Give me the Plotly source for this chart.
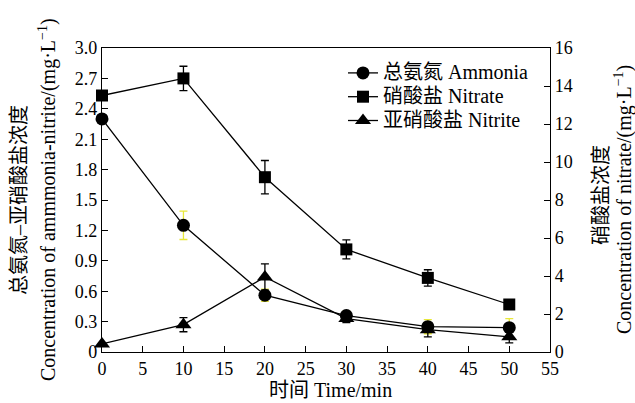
import plotly.graph_objects as go

time_min = [0, 10, 20, 30, 40, 50]

ammonia = [2.30, 1.25, 0.56, 0.36, 0.25, 0.24]
ammonia_err = [0.0, 0.14, 0.06, 0.04, 0.07, 0.09]

nitrate = [13.5, 14.4, 9.2, 5.4, 3.9, 2.5]
nitrate_err = [0.0, 0.64, 0.88, 0.5, 0.43, 0.1]

nitrite = [0.08, 0.27, 0.74, 0.33, 0.22, 0.15]
nitrite_err = [0.0, 0.07, 0.13, 0.04, 0.07, 0.06]

left_ticks = [0, 0.3, 0.6, 0.9, 1.2, 1.5, 1.8, 2.1, 2.4, 2.7, 3.0]
left_ticktext = ["0", "0.3", "0.6", "0.9", "1.2", "1.5", "1.8", "2.1", "2.4", "2.7", "3.0"]
right_ticks = [0, 2, 4, 6, 8, 10, 12, 14, 16]
x_ticks = [0, 5, 10, 15, 20, 25, 30, 35, 40, 45, 50, 55]

names = ["总氨氮 Ammonia", "硝酸盐 Nitrate", "亚硝酸盐 Nitrite"]
x_title = "时间 Time/min"
left_title = ["总氨氮–亚硝酸盐浓度", "Concentration of ammmonia-nitrite/(mg·L<sup>−1</sup>)"]
right_title = ["硝酸盐浓度", "Concentration of nitrate/(mg·L<sup>−1</sup>)"]

FONT = "Liberation Serif, Times New Roman, Noto Sans CJK SC, serif"
line_style = dict(color="black", width=1.3)


def big(label):
    return '<span style="font-size:20px">' + label + '</span>'


fig = go.Figure()
fig.add_trace(go.Scatter(
    x=time_min, y=ammonia, name=big(names[0]), mode="lines+markers",
    line=line_style, marker=dict(symbol="circle", size=13, color="black"),
    error_y=dict(type="data", array=ammonia_err, color="#e8e83a", thickness=1.3, width=4),
    cliponaxis=False))
fig.add_trace(go.Scatter(
    x=time_min, y=nitrate, name=big(names[1]), mode="lines+markers", yaxis="y2",
    line=line_style, marker=dict(symbol="square", size=12, color="black"),
    error_y=dict(type="data", array=nitrate_err, color="black", thickness=1.3, width=4),
    cliponaxis=False))
fig.add_trace(go.Scatter(
    x=time_min, y=nitrite, name=big(names[2]), mode="lines+markers",
    line=line_style, marker=dict(symbol="triangle-up", size=14, color="black"),
    error_y=dict(type="data", array=nitrite_err, color="black", thickness=1.3, width=4),
    cliponaxis=False))

axis_common = dict(showline=True, linecolor="black", linewidth=1.3, ticks="inside",
                   ticklen=6, tickcolor="black", tickwidth=1.3, showgrid=False,
                   zeroline=False, automargin=False,
                   tickfont=dict(size=18, color="black"))

L, R, T, B = 102, 85, 48, 51
W, H = 635, 403
pw, ph = W - L - R, H - T - B


def px_x(px):
    return (px - L) / pw


def px_y(py):
    return (H - B - py) / ph


annotations = [
    dict(text=x_title, x=px_x(330), y=px_y(390), xref="paper", yref="paper",
         showarrow=False, xanchor="center", yanchor="middle", font=dict(size=20)),
    dict(text=left_title[0], x=px_x(19), y=px_y(200), xref="paper", yref="paper",
         showarrow=False, textangle=-90, xanchor="center", yanchor="middle",
         font=dict(size=20)),
    dict(text=left_title[1], x=px_x(47), y=px_y(200), xref="paper", yref="paper",
         showarrow=False, textangle=-90, xanchor="center", yanchor="middle",
         font=dict(size=20)),
    dict(text=right_title[0], x=px_x(601), y=px_y(195), xref="paper", yref="paper",
         showarrow=False, textangle=-90, xanchor="center", yanchor="middle",
         font=dict(size=20)),
    dict(text=right_title[1], x=px_x(623), y=px_y(200), xref="paper", yref="paper",
         showarrow=False, textangle=-90, xanchor="center", yanchor="middle",
         font=dict(size=20)),
]

fig.update_layout(
    width=W, height=H,
    margin=dict(l=L, r=R, t=T, b=B),
    paper_bgcolor="white", plot_bgcolor="white",
    font=dict(family=FONT, size=18, color="black"),
    showlegend=True,
    legend=dict(x=px_x(343), xanchor="left", y=px_y(56), yanchor="top",
                bgcolor="rgba(0,0,0,0)", font=dict(size=16),
                tracegroupgap=0, itemwidth=30),
    xaxis=dict(range=[0, 55], tickvals=x_ticks, mirror=True, **axis_common),
    yaxis=dict(range=[0, 3.0], tickvals=left_ticks, ticktext=left_ticktext, **axis_common),
    yaxis2=dict(range=[0, 16], tickvals=right_ticks, overlaying="y", side="right",
                **axis_common),
    annotations=annotations,
)

fig.write_html("out.html", config={"displayModeBar": False},
               post_script="document.body.style.margin='0';document.body.style.overflow='hidden';")
